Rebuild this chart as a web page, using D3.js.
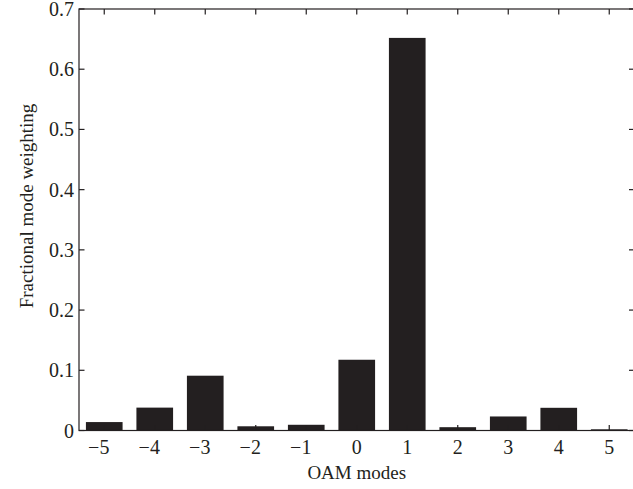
<!DOCTYPE html>
<html>
<head>
<meta charset="utf-8">
<title>OAM modes</title>
<script src="https://d3js.org/d3.v7.min.js"></script>
<style>
  body { margin: 0; background: #fff; }
  text { font-family: "Liberation Serif", "Times New Roman", serif; fill: #231f20; }
</style>
</head>
<body>
<div id="chart"></div>
<script>
// data
var modes = [-5, -4, -3, -2, -1, 0, 1, 2, 3, 4, 5];
var weights = [0.014, 0.038, 0.091, 0.007, 0.0095, 0.1175, 0.652, 0.0055, 0.0233, 0.0377, 0.002];
var yTicks = [0, 0.1, 0.2, 0.3, 0.4, 0.5, 0.6, 0.7];
var yTickLabels = ["0", "0.1", "0.2", "0.3", "0.4", "0.5", "0.6", "0.7"];

function draw() {
    var W = 633, H = 489;
    var mLeft = 79, mRight = 634.5, mTop = 9, mBottom = 430.5;
    var ink = "#231f20";

    var svg = d3.select("#chart").append("svg")
        .attr("width", W).attr("height", H);

    var x = d3.scaleLinear().domain([-5.5, 5.5]).range([mLeft, mRight]);
    var y = d3.scaleLinear().domain([0, 0.7]).range([mBottom, mTop]);
    var halfW = 0.363;

    // bars
    svg.selectAll("rect.bar")
        .data(modes)
        .enter().append("rect")
        .attr("class", "bar")
        .attr("x", function(d) { return x(d - halfW); })
        .attr("width", function(d) { return x(d + halfW) - x(d - halfW); })
        .attr("y", function(d, i) { return y(weights[i]); })
        .attr("height", function(d, i) { return y(0) - y(weights[i]); })
        .attr("fill", ink);

    var tl = 5.5;
    var g = svg.append("g").attr("stroke", ink).attr("stroke-width", 1.2);

    // x ticks, bottom and top, pointing inward
    modes.forEach(function(m) {
        g.append("line").attr("x1", x(m)).attr("x2", x(m)).attr("y1", mBottom).attr("y2", mBottom - tl);
        g.append("line").attr("x1", x(m)).attr("x2", x(m)).attr("y1", mTop).attr("y2", mTop + tl);
    });
    // y ticks, left and right
    yTicks.forEach(function(t) {
        g.append("line").attr("x1", mLeft).attr("x2", mLeft + tl).attr("y1", y(t)).attr("y2", y(t));
        g.append("line").attr("x1", mRight).attr("x2", mRight - tl).attr("y1", y(t)).attr("y2", y(t));
    });

    // box
    g.append("rect")
        .attr("x", mLeft).attr("y", mTop)
        .attr("width", mRight - mLeft).attr("height", mBottom - mTop)
        .attr("fill", "none");

    // tick labels
    svg.selectAll("text.xt")
        .data(modes)
        .enter().append("text")
        .attr("class", "xt")
        .attr("x", function(d) { return x(d) - (d < 0 ? 5.5 : 0); })
        .attr("y", 454)
        .attr("text-anchor", "middle")
        .style("font-size", "20px")
        .text(function(d) { return d < 0 ? "\u2212" + Math.abs(d) : String(d); });

    svg.selectAll("text.yt")
        .data(yTicks)
        .enter().append("text")
        .attr("class", "yt")
        .attr("x", 74)
        .attr("y", function(d) { return y(d) + 7; })
        .attr("text-anchor", "end")
        .style("font-size", "20px")
        .text(function(d, i) { return yTickLabels[i]; });

    // axis titles
    svg.append("text")
        .attr("x", (mLeft + mRight) / 2)
        .attr("y", 479)
        .attr("text-anchor", "middle")
        .style("font-size", "19px")
        .text("OAM modes");

    svg.append("text")
        .attr("transform", "translate(33,206) rotate(-90)")
        .attr("text-anchor", "middle")
        .style("font-size", "19px")
        .text("Fractional mode weighting");
}
draw();
</script>
</body>
</html>
